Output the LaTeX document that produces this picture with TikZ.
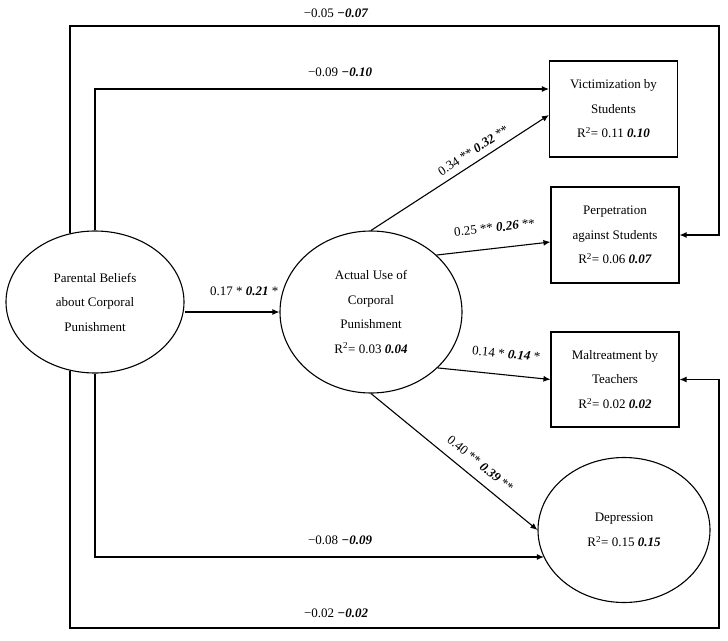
\documentclass[tikz,border=0pt]{standalone}
\usepackage{fontspec}
\setmainfont{Liberation Serif}
\usetikzlibrary{arrows.meta,shapes.geometric,calc}
\newcommand{\bi}[1]{\textbf{\textit{#1}}}
\begin{document}
\begin{tikzpicture}[x=1pt,y=-1pt,
  every node/.style={font=\fontsize{13}{24.5}\selectfont},
  oval/.style={draw,ellipse,line width=1.1pt,inner sep=0pt,align=center},
  box/.style={draw,rectangle,line width=1.1pt,inner sep=0pt,align=center,minimum width=128pt,minimum height=96pt},
  arr/.style={line width=1.1pt,-{Latex[length=7pt,width=6pt]}},
  lab/.style={inner sep=2pt}]
\useasboundingbox (0,0) rectangle (728,640);
% nodes
\node[oval,minimum width=178pt,minimum height=142pt] (par) at (95,302) {Parental Beliefs\\about Corporal\\Punishment};
\node[oval,minimum width=182pt,minimum height=162pt] (act) at (371,312) {Actual Use of\\Corporal\\Punishment\\R\textsuperscript{2}= 0.03 \bi{0.04}};
\node[oval,minimum width=172pt,minimum height=145pt] (dep) at (624,530) {Depression\\R\textsuperscript{2}= 0.15 \bi{0.15}};
\node[box] (vic) at (613.5,109) {Victimization by\\Students\\R\textsuperscript{2}= 0.11 \bi{0.10}};
\node[box] (per) at (615,235) {Perpetration\\against Students\\R\textsuperscript{2}= 0.06 \bi{0.07}};
\node[box,minimum height=95pt] (mal) at (615,379.5) {Maltreatment by\\Teachers\\R\textsuperscript{2}= 0.02 \bi{0.02}};
% helper coordinates
\coordinate (ot1) at (70,26);
\coordinate (ot2) at (719,26);
\coordinate (ti) at (95,89);
\coordinate (bi) at (95,557);
\coordinate (ob1) at (70,628);
\coordinate (ob2) at (719,628);
% connectors
\draw[arr] (act.west -| par.east) -- node[lab,above=14pt,pos=0.63]{0.17 * \bi{0.21} *} (act.west);
\draw[arr] (ot1 |- par.110) -- (ot1) -- node[lab,above=6pt,pos=0.41]{−0.05 \bi{−0.07}} (ot2) -- (ot2 |- per.east) -- (per.east);
\draw[arr] (par.north) -- (ti) -- node[lab,above=10pt,pos=0.54]{−0.09 \bi{−0.10}} (ti -| vic.west);
\draw[arr] (par.south) -- (bi) -- node[lab,above=10pt,pos=0.546]{−0.08 \bi{−0.09}} (bi -| dep.199);
\draw[arr] (ob1 |- par.250) -- (ob1) -- node[lab,above=8pt,pos=0.41]{−0.02 \bi{−0.02}} (ob2) -- (ob2 |- mal.east) -- (mal.east);
\draw[arr] (act.north) -- node[lab,sloped,above=4.5pt,pos=0.61]{0.34 ** \bi{0.32} **} ([yshift=-6pt]vic.west);
\draw[arr] (act.41) -- node[lab,sloped,above=13.5pt,pos=0.53]{0.25 ** \bi{0.26} **} ([yshift=-7pt]per.west);
\draw[arr] (act.320) -- node[lab,sloped,above=14pt,pos=0.59]{0.14 * \bi{0.14} *} (mal.west);
\draw[arr] (act.south) -- node[lab,sloped,above=8pt,pos=0.6]{0.40 ** \bi{0.39} **} (dep.west);
\end{tikzpicture}
\end{document}
